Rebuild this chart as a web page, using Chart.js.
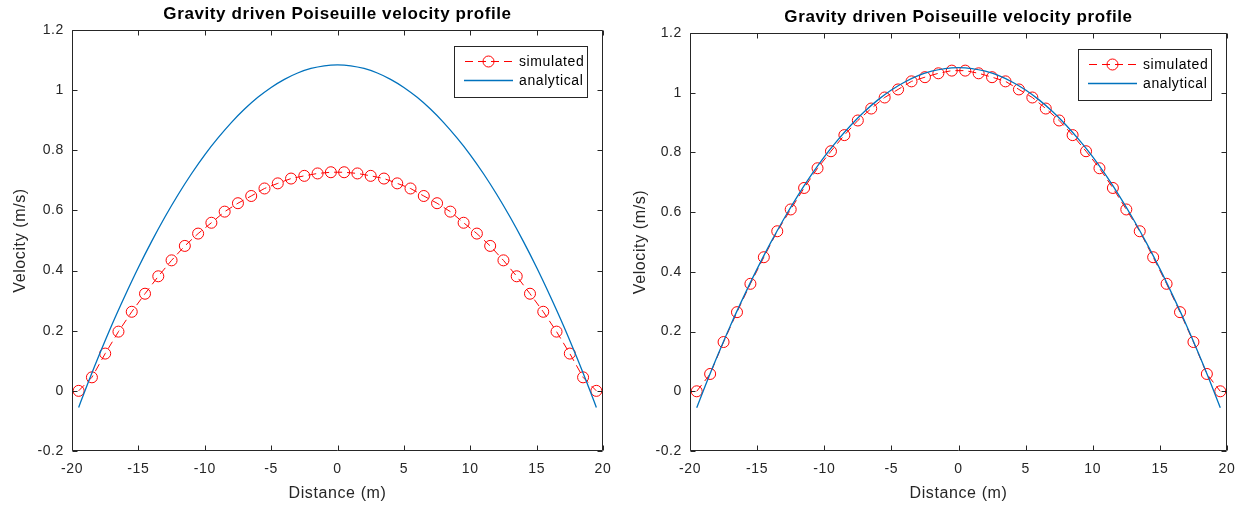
<!DOCTYPE html>
<html>
<head>
<meta charset="utf-8">
<script src="https://cdn.jsdelivr.net/npm/chart.js@4/dist/chart.umd.min.js"></script>
<style>
    html, body { margin: 0; padding: 0; background: #fff; }
    #wrap { position: relative; width: 1246px; height: 508px; }
    .panel { position: absolute; top: 0; width: 623px; height: 508px; }
</style>
</head>
<body>
<div id="wrap">
    <div class="panel" style="left:0"><canvas id="leftChart" width="623" height="508"></canvas></div>
    <div class="panel" style="left:623px"><canvas id="rightChart" width="623" height="508"></canvas></div>
</div>
<script>
// sample positions of the simulated profile (m)
const distance = [
    -19.5, -18.5, -17.5, -16.5, -15.5, -14.5, -13.5, -12.5, -11.5, -10.5,
    -9.5, -8.5, -7.5, -6.5, -5.5, -4.5, -3.5, -2.5, -1.5, -0.5,
    0.5, 1.5, 2.5, 3.5, 4.5, 5.5, 6.5, 7.5, 8.5, 9.5,
    10.5, 11.5, 12.5, 13.5, 14.5, 15.5, 16.5, 17.5, 18.5, 19.5
];

// left panel: simulated velocity (m/s)
const simulatedLeft = [
    0, 0.045, 0.124, 0.197, 0.263, 0.323, 0.381, 0.434, 0.482, 0.523,
    0.559, 0.596, 0.624, 0.648, 0.673, 0.690, 0.706, 0.715, 0.723, 0.727,
    0.727, 0.723, 0.715, 0.706, 0.690, 0.673, 0.648, 0.624, 0.596, 0.559,
    0.523, 0.482, 0.434, 0.381, 0.323, 0.263, 0.197, 0.124, 0.045, 0
];

// right panel: simulated velocity (m/s)
const simulatedRight = [
    0, 0.058, 0.165, 0.265, 0.360, 0.449, 0.536, 0.609, 0.681, 0.747,
    0.804, 0.858, 0.907, 0.947, 0.984, 1.011, 1.038, 1.052, 1.065, 1.074,
    1.074, 1.065, 1.052, 1.038, 1.011, 0.984, 0.947, 0.907, 0.858, 0.804,
    0.747, 0.681, 0.609, 0.536, 0.449, 0.360, 0.265, 0.165, 0.058, 0
];

// analytical curve
const analyticalDistance = [
    -19.5, -19, -18, -17, -16, -15, -14, -13, -12, -11, -10, -9, -8, -7, -6, -5, -4, -3, -2, -1,
    0,
    1, 2, 3, 4, 5, 6, 7, 8, 9, 10, 11, 12, 13, 14, 15, 16, 17, 18, 19, 19.5
];
const analyticalVelocity = [
    -0.055, 0.003, 0.114, 0.219, 0.317, 0.410, 0.497, 0.578, 0.653, 0.722,
    0.785, 0.841, 0.892, 0.937, 0.976, 1.009, 1.036, 1.057, 1.072, 1.081,
    1.084,
    1.081, 1.072, 1.057, 1.036, 1.009, 0.976, 0.937, 0.892, 0.841, 0.785,
    0.722, 0.653, 0.578, 0.497, 0.410, 0.317, 0.219, 0.114, 0.003, -0.055
];

const xTickValues = [-20, -15, -10, -5, 0, 5, 10, 15, 20];
const xTickLabels = ['-20', '-15', '-10', '-5', '0', '5', '10', '15', '20'];
const yTickValues = [-0.2, 0, 0.2, 0.4, 0.6, 0.8, 1, 1.2];
const yTickLabels = ['-0.2', '0', '0.2', '0.4', '0.6', '0.8', '1', '1.2'];

const FONT = '"Liberation Sans", Arial, Helvetica, sans-serif';
const AXIS_COLOR = '#262626';

function toPoints(xs, ys) {
    return xs.map((x, i) => ({ x: x, y: ys[i] }));
}

// the reference text is a little wide, so space the letters out a bit
const wideText = {
    id: 'wideText',
    afterInit(chart) {
        chart.ctx.letterSpacing = '0.6px';
    }
};

// box round the axes with inward ticks on all four sides
const matlabAxes = {
    id: 'matlabAxes',
    afterDatasetsDraw(chart) {
        const { ctx, chartArea: a, scales: { x, y } } = chart;
        const L = Math.round(a.left) + 0.5, R = Math.round(a.right) - 0.5;
        const T = Math.round(a.top) + 0.5, B = Math.round(a.bottom) - 0.5;
        ctx.save();
        ctx.strokeStyle = AXIS_COLOR;
        ctx.lineWidth = 1;
        ctx.beginPath();
        ctx.rect(L, T, R - L, B - T);
        x.ticks.forEach(t => {
            const px = Math.round(x.getPixelForValue(t.value)) + 0.5;
            ctx.moveTo(px, B); ctx.lineTo(px, B - 5);
            ctx.moveTo(px, T); ctx.lineTo(px, T + 5);
        });
        y.ticks.forEach(t => {
            const py = Math.round(y.getPixelForValue(t.value)) + 0.5;
            ctx.moveTo(L, py); ctx.lineTo(L + 5, py);
            ctx.moveTo(R, py); ctx.lineTo(R - 5, py);
        });
        ctx.stroke();
        ctx.restore();
    }
};

// legend box in the top right corner of the axes
const boxLegend = {
    id: 'boxLegend',
    afterDraw(chart) {
        const { ctx, chartArea } = chart;
        const w = 133, h = 51;
        const left = Math.round(chartArea.right - 16 - w);
        const top = Math.round(chartArea.top + 16);
        ctx.save();
        ctx.fillStyle = '#fff';
        ctx.fillRect(left, top, w, h);
        ctx.strokeStyle = AXIS_COLOR;
        ctx.lineWidth = 1;
        ctx.strokeRect(left + 0.5, top + 0.5, w, h);
        chart.data.datasets.forEach((ds, i) => {
            const y = top + 15.5 + i * 19;
            ctx.strokeStyle = ds.borderColor;
            ctx.lineWidth = ds.borderWidth;
            ctx.setLineDash(ds.borderDash || []);
            ctx.lineDashOffset = -1;
            ctx.beginPath();
            ctx.moveTo(left + 10, y);
            ctx.lineTo(left + 59, y);
            ctx.stroke();
            ctx.setLineDash([]);
            if (ds.pointRadius > 0) {
                ctx.strokeStyle = ds.pointBorderColor;
                ctx.beginPath();
                ctx.arc(left + 34.5, y, ds.pointRadius, 0, Math.PI * 2);
                ctx.stroke();
            }
            ctx.fillStyle = '#000';
            ctx.font = '14px ' + FONT;
            ctx.textBaseline = 'middle';
            ctx.textAlign = 'left';
            ctx.fillText(ds.label, left + 65, y + 0.5);
        });
        ctx.restore();
    }
};

function makeChart(canvas, simulated, area) {
    return new Chart(canvas, {
        type: 'scatter',
        data: {
            datasets: [{
                label: 'simulated',
                data: toPoints(distance, simulated),
                showLine: true,
                borderColor: '#ff0000',
                borderWidth: 1,
                borderDash: [8, 5],
                pointRadius: 5.5,
                pointHoverRadius: 5.5,
                pointBorderWidth: 1,
                pointBorderColor: '#ff0000',
                pointBackgroundColor: 'rgba(0,0,0,0)',
                order: 2,
                clip: false
            }, {
                label: 'analytical',
                data: toPoints(analyticalDistance, analyticalVelocity),
                showLine: true,
                borderColor: '#0072bd',
                borderWidth: 1.3,
                pointRadius: 0,
                pointHoverRadius: 0,
                cubicInterpolationMode: 'monotone',
                order: 1,
                clip: false
            }]
        },
        options: {
            responsive: false,
            animation: false,
            events: [],
            layout: { padding: { left: 0, right: 623 - area.right, top: 0, bottom: 0 } },
            plugins: {
                legend: { display: false },
                tooltip: { enabled: false },
                title: {
                    display: true,
                    fullSize: false,
                    text: 'Gravity driven Poiseuille velocity profile',
                    color: '#000',
                    font: { family: FONT, size: 17, weight: 'bold', lineHeight: 1.2 },
                    padding: { top: area.top - 20.4 - 5, bottom: 5 }
                }
            },
            scales: {
                x: {
                    type: 'linear',
                    position: 'bottom',
                    min: -20,
                    max: 20,
                    afterBuildTicks: s => { s.ticks = xTickValues.map(v => ({ value: v })); },
                    afterFit: s => { s.height = 508 - 451; },
                    grid: { display: false, drawTicks: false },
                    border: { display: false },
                    ticks: {
                        color: AXIS_COLOR,
                        padding: 10,
                        maxRotation: 0,
                        font: { family: FONT, size: 14 },
                        callback: (v, i) => xTickLabels[i]
                    },
                    title: {
                        display: true,
                        text: 'Distance (m)',
                        color: AXIS_COLOR,
                        font: { family: FONT, size: 16, lineHeight: 1.2 },
                        padding: { top: 0, bottom: 5 }
                    }
                },
                y: {
                    type: 'linear',
                    position: 'left',
                    min: -0.2,
                    max: 1.2,
                    afterBuildTicks: s => { s.ticks = yTickValues.map(v => ({ value: v })); },
                    afterFit: s => { s.width = area.left; },
                    grid: { display: false, drawTicks: false },
                    border: { display: false },
                    ticks: {
                        color: AXIS_COLOR,
                        padding: 8,
                        font: { family: FONT, size: 14 },
                        callback: (v, i) => yTickLabels[i]
                    },
                    title: {
                        display: true,
                        text: 'Velocity (m/s)',
                        color: AXIS_COLOR,
                        font: { family: FONT, size: 16, lineHeight: 1.2 },
                        padding: { top: area.titleX - 9.6, bottom: 0 }
                    }
                }
            }
        },
        plugins: [wideText, matlabAxes, boxLegend]
    });
}

makeChart(document.getElementById('leftChart'), simulatedLeft, { left: 72, right: 603, top: 30, titleX: 21 });
makeChart(document.getElementById('rightChart'), simulatedRight, { left: 67, right: 604, top: 33, titleX: 18 });
</script>
</body>
</html>
